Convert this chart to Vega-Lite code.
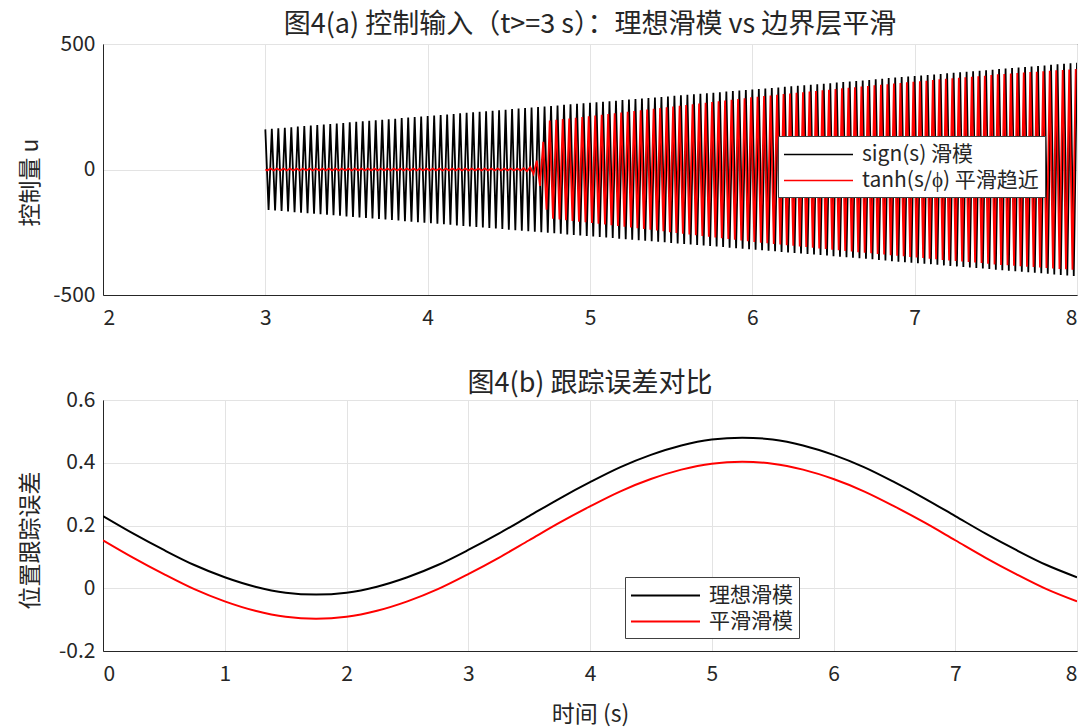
{
"$schema": "https://vega.github.io/schema/vega-lite/v6.json",
"background": "white",
"padding": {"left": 18, "top": 10, "right": 10, "bottom": 0},
"spacing": 40,
"resolve": {"scale": {"color": "independent"}, "legend": {"color": "independent"}},
"config": {
 "font": "Noto Sans CJK SC",
 "view": {"stroke": "#262626", "strokeWidth": 1},
 "axis": {"labelFont": "Noto Sans CJK SC", "labelFontSize": 21, "labelColor": "#262626", "titleFont": "Noto Sans CJK SC", "titleFontSize": 23, "titleFontWeight": "normal", "titleColor": "#262626", "domainColor": "#262626", "gridColor": "#e3e3e3", "ticks": false, "labelPadding": 8, "titlePadding": 6},
 "axisX": {"labelPadding": 12, "titlePadding": 19},
 "title": {"font": "Noto Sans CJK SC", "fontSize": 27, "fontWeight": "normal", "color": "#262626"}
},
"datasets": {
 "sig": [
{"t":3.00,"u":160},{"t":3.02,"u":-161},{"t":3.04,"u":162},{"t":3.06,"u":-163},{"t":3.08,"u":164},{"t":3.10,"u":-165},{"t":3.12,"u":166},{"t":3.14,"u":-167},{"t":3.16,"u":168},{"t":3.18,"u":-170},
{"t":3.20,"u":171},{"t":3.22,"u":-172},{"t":3.24,"u":173},{"t":3.26,"u":-174},{"t":3.28,"u":175},{"t":3.30,"u":-176},{"t":3.32,"u":177},{"t":3.34,"u":-178},{"t":3.36,"u":179},{"t":3.38,"u":-180},
{"t":3.40,"u":181},{"t":3.42,"u":-182},{"t":3.44,"u":183},{"t":3.46,"u":-184},{"t":3.48,"u":185},{"t":3.50,"u":-187},{"t":3.52,"u":188},{"t":3.54,"u":-189},{"t":3.56,"u":190},{"t":3.58,"u":-191},
{"t":3.60,"u":192},{"t":3.62,"u":-193},{"t":3.64,"u":194},{"t":3.66,"u":-195},{"t":3.68,"u":196},{"t":3.70,"u":-197},{"t":3.72,"u":198},{"t":3.74,"u":-199},{"t":3.76,"u":200},{"t":3.78,"u":-201},
{"t":3.80,"u":202},{"t":3.82,"u":-203},{"t":3.84,"u":205},{"t":3.86,"u":-206},{"t":3.88,"u":207},{"t":3.90,"u":-208},{"t":3.92,"u":209},{"t":3.94,"u":-210},{"t":3.96,"u":211},{"t":3.98,"u":-212},
{"t":4.00,"u":213},{"t":4.02,"u":-214},{"t":4.04,"u":215},{"t":4.06,"u":-216},{"t":4.08,"u":217},{"t":4.10,"u":-218},{"t":4.12,"u":219},{"t":4.14,"u":-220},{"t":4.16,"u":221},{"t":4.18,"u":-223},
{"t":4.20,"u":224},{"t":4.22,"u":-225},{"t":4.24,"u":226},{"t":4.26,"u":-227},{"t":4.28,"u":228},{"t":4.30,"u":-229},{"t":4.32,"u":230},{"t":4.34,"u":-231},{"t":4.36,"u":232},{"t":4.38,"u":-233},
{"t":4.40,"u":234},{"t":4.42,"u":-235},{"t":4.44,"u":236},{"t":4.46,"u":-237},{"t":4.48,"u":238},{"t":4.50,"u":-240},{"t":4.52,"u":241},{"t":4.54,"u":-242},{"t":4.56,"u":243},{"t":4.58,"u":-244},
{"t":4.60,"u":245},{"t":4.62,"u":-246},{"t":4.64,"u":247},{"t":4.66,"u":-248},{"t":4.68,"u":249},{"t":4.70,"u":-250},{"t":4.72,"u":251},{"t":4.74,"u":-252},{"t":4.76,"u":253},{"t":4.78,"u":-254},
{"t":4.80,"u":255},{"t":4.82,"u":-256},{"t":4.84,"u":258},{"t":4.86,"u":-259},{"t":4.88,"u":260},{"t":4.90,"u":-261},{"t":4.92,"u":262},{"t":4.94,"u":-263},{"t":4.96,"u":264},{"t":4.98,"u":-265},
{"t":5.00,"u":266},{"t":5.02,"u":-267},{"t":5.04,"u":268},{"t":5.06,"u":-269},{"t":5.08,"u":270},{"t":5.10,"u":-271},{"t":5.12,"u":272},{"t":5.14,"u":-273},{"t":5.16,"u":274},{"t":5.18,"u":-276},
{"t":5.20,"u":277},{"t":5.22,"u":-278},{"t":5.24,"u":279},{"t":5.26,"u":-280},{"t":5.28,"u":281},{"t":5.30,"u":-282},{"t":5.32,"u":283},{"t":5.34,"u":-284},{"t":5.36,"u":285},{"t":5.38,"u":-286},
{"t":5.40,"u":287},{"t":5.42,"u":-288},{"t":5.44,"u":289},{"t":5.46,"u":-290},{"t":5.48,"u":291},{"t":5.50,"u":-293},{"t":5.52,"u":294},{"t":5.54,"u":-295},{"t":5.56,"u":296},{"t":5.58,"u":-297},
{"t":5.60,"u":298},{"t":5.62,"u":-299},{"t":5.64,"u":300},{"t":5.66,"u":-301},{"t":5.68,"u":302},{"t":5.70,"u":-303},{"t":5.72,"u":304},{"t":5.74,"u":-305},{"t":5.76,"u":306},{"t":5.78,"u":-307},
{"t":5.80,"u":308},{"t":5.82,"u":-309},{"t":5.84,"u":311},{"t":5.86,"u":-312},{"t":5.88,"u":313},{"t":5.90,"u":-314},{"t":5.92,"u":315},{"t":5.94,"u":-316},{"t":5.96,"u":317},{"t":5.98,"u":-318},
{"t":6.00,"u":319},{"t":6.02,"u":-320},{"t":6.04,"u":321},{"t":6.06,"u":-322},{"t":6.08,"u":323},{"t":6.10,"u":-324},{"t":6.12,"u":325},{"t":6.14,"u":-326},{"t":6.16,"u":327},{"t":6.18,"u":-329},
{"t":6.20,"u":330},{"t":6.22,"u":-331},{"t":6.24,"u":332},{"t":6.26,"u":-333},{"t":6.28,"u":334},{"t":6.30,"u":-335},{"t":6.32,"u":336},{"t":6.34,"u":-337},{"t":6.36,"u":338},{"t":6.38,"u":-339},
{"t":6.40,"u":340},{"t":6.42,"u":-341},{"t":6.44,"u":342},{"t":6.46,"u":-343},{"t":6.48,"u":344},{"t":6.50,"u":-346},{"t":6.52,"u":347},{"t":6.54,"u":-348},{"t":6.56,"u":349},{"t":6.58,"u":-350},
{"t":6.60,"u":351},{"t":6.62,"u":-352},{"t":6.64,"u":353},{"t":6.66,"u":-354},{"t":6.68,"u":355},{"t":6.70,"u":-356},{"t":6.72,"u":357},{"t":6.74,"u":-358},{"t":6.76,"u":359},{"t":6.78,"u":-360},
{"t":6.80,"u":361},{"t":6.82,"u":-362},{"t":6.84,"u":364},{"t":6.86,"u":-365},{"t":6.88,"u":366},{"t":6.90,"u":-367},{"t":6.92,"u":368},{"t":6.94,"u":-369},{"t":6.96,"u":370},{"t":6.98,"u":-371},
{"t":7.00,"u":372},{"t":7.02,"u":-373},{"t":7.04,"u":374},{"t":7.06,"u":-375},{"t":7.08,"u":376},{"t":7.10,"u":-377},{"t":7.12,"u":378},{"t":7.14,"u":-379},{"t":7.16,"u":380},{"t":7.18,"u":-382},
{"t":7.20,"u":383},{"t":7.22,"u":-384},{"t":7.24,"u":385},{"t":7.26,"u":-386},{"t":7.28,"u":387},{"t":7.30,"u":-388},{"t":7.32,"u":389},{"t":7.34,"u":-390},{"t":7.36,"u":391},{"t":7.38,"u":-392},
{"t":7.40,"u":393},{"t":7.42,"u":-394},{"t":7.44,"u":395},{"t":7.46,"u":-396},{"t":7.48,"u":397},{"t":7.50,"u":-399},{"t":7.52,"u":400},{"t":7.54,"u":-401},{"t":7.56,"u":402},{"t":7.58,"u":-403},
{"t":7.60,"u":404},{"t":7.62,"u":-405},{"t":7.64,"u":406},{"t":7.66,"u":-407},{"t":7.68,"u":408},{"t":7.70,"u":-409},{"t":7.72,"u":410},{"t":7.74,"u":-411},{"t":7.76,"u":412},{"t":7.78,"u":-413},
{"t":7.80,"u":414},{"t":7.82,"u":-415},{"t":7.84,"u":417},{"t":7.86,"u":-418},{"t":7.88,"u":419},{"t":7.90,"u":-420},{"t":7.92,"u":421},{"t":7.94,"u":-422},{"t":7.96,"u":423},{"t":7.98,"u":-424},
{"t":8.00,"u":425}
 ],
 "tan": [
{"t":3.000,"u":0},
{"t":3.012,"u":-4},{"t":3.032,"u":4},{"t":3.052,"u":-4},{"t":3.072,"u":4},{"t":3.092,"u":-4},{"t":3.112,"u":4},{"t":3.132,"u":-4},{"t":3.152,"u":4},{"t":3.172,"u":-4},{"t":3.192,"u":4},
{"t":3.212,"u":-4},{"t":3.232,"u":4},{"t":3.252,"u":-4},{"t":3.272,"u":4},{"t":3.292,"u":-4},{"t":3.312,"u":4},{"t":3.332,"u":-4},{"t":3.352,"u":4},{"t":3.372,"u":-4},{"t":3.392,"u":4},
{"t":3.412,"u":-4},{"t":3.432,"u":4},{"t":3.452,"u":-4},{"t":3.472,"u":4},{"t":3.492,"u":-4},{"t":3.512,"u":4},{"t":3.532,"u":-4},{"t":3.552,"u":4},{"t":3.572,"u":-4},{"t":3.592,"u":4},
{"t":3.612,"u":-4},{"t":3.632,"u":4},{"t":3.652,"u":-4},{"t":3.672,"u":4},{"t":3.692,"u":-4},{"t":3.712,"u":4},{"t":3.732,"u":-4},{"t":3.752,"u":4},{"t":3.772,"u":-4},{"t":3.792,"u":4},
{"t":3.812,"u":-4},{"t":3.832,"u":4},{"t":3.852,"u":-4},{"t":3.872,"u":4},{"t":3.892,"u":-4},{"t":3.912,"u":4},{"t":3.932,"u":-4},{"t":3.952,"u":4},{"t":3.972,"u":-4},{"t":3.992,"u":4},
{"t":4.012,"u":-4},{"t":4.032,"u":4},{"t":4.052,"u":-4},{"t":4.072,"u":4},{"t":4.092,"u":-4},{"t":4.112,"u":4},{"t":4.132,"u":-4},{"t":4.152,"u":4},{"t":4.172,"u":-4},{"t":4.192,"u":4},
{"t":4.212,"u":-4},{"t":4.232,"u":4},{"t":4.252,"u":-4},{"t":4.272,"u":4},{"t":4.292,"u":-4},{"t":4.312,"u":4},{"t":4.332,"u":-4},{"t":4.352,"u":4},{"t":4.372,"u":-4},{"t":4.392,"u":4},
{"t":4.412,"u":-4},{"t":4.432,"u":4},{"t":4.452,"u":-4},{"t":4.472,"u":4},{"t":4.492,"u":-4},{"t":4.512,"u":4},{"t":4.532,"u":-4},{"t":4.552,"u":4},{"t":4.572,"u":-4},{"t":4.592,"u":5},
{"t":4.612,"u":-7},{"t":4.632,"u":10},{"t":4.652,"u":-18},{"t":4.672,"u":35},{"t":4.692,"u":-65},{"t":4.712,"u":110},{"t":4.732,"u":-160},{"t":4.752,"u":195},{"t":4.772,"u":-196},{"t":4.792,"u":198},
{"t":4.812,"u":-199},{"t":4.832,"u":201},{"t":4.852,"u":-202},{"t":4.872,"u":203},{"t":4.892,"u":-205},{"t":4.912,"u":206},{"t":4.932,"u":-208},{"t":4.952,"u":209},{"t":4.972,"u":-210},{"t":4.992,"u":212},
{"t":5.012,"u":-213},{"t":5.032,"u":215},{"t":5.052,"u":-216},{"t":5.072,"u":218},{"t":5.092,"u":-219},{"t":5.112,"u":221},{"t":5.132,"u":-222},{"t":5.152,"u":224},{"t":5.172,"u":-225},{"t":5.192,"u":227},
{"t":5.212,"u":-228},{"t":5.232,"u":230},{"t":5.252,"u":-231},{"t":5.272,"u":233},{"t":5.292,"u":-234},{"t":5.312,"u":236},{"t":5.332,"u":-237},{"t":5.352,"u":239},{"t":5.372,"u":-240},{"t":5.392,"u":242},
{"t":5.412,"u":-243},{"t":5.432,"u":245},{"t":5.452,"u":-246},{"t":5.472,"u":248},{"t":5.492,"u":-250},{"t":5.512,"u":251},{"t":5.532,"u":-253},{"t":5.552,"u":254},{"t":5.572,"u":-256},{"t":5.592,"u":257},
{"t":5.612,"u":-259},{"t":5.632,"u":260},{"t":5.652,"u":-262},{"t":5.672,"u":263},{"t":5.692,"u":-265},{"t":5.712,"u":266},{"t":5.732,"u":-268},{"t":5.752,"u":269},{"t":5.772,"u":-271},{"t":5.792,"u":272},
{"t":5.812,"u":-274},{"t":5.832,"u":275},{"t":5.852,"u":-277},{"t":5.872,"u":278},{"t":5.892,"u":-280},{"t":5.912,"u":281},{"t":5.932,"u":-283},{"t":5.952,"u":284},{"t":5.972,"u":-286},{"t":5.992,"u":288},
{"t":6.012,"u":-289},{"t":6.032,"u":290},{"t":6.052,"u":-292},{"t":6.072,"u":293},{"t":6.092,"u":-294},{"t":6.112,"u":295},{"t":6.132,"u":-297},{"t":6.152,"u":298},{"t":6.172,"u":-299},{"t":6.192,"u":301},
{"t":6.212,"u":-302},{"t":6.232,"u":303},{"t":6.252,"u":-304},{"t":6.272,"u":306},{"t":6.292,"u":-307},{"t":6.312,"u":308},{"t":6.332,"u":-309},{"t":6.352,"u":311},{"t":6.372,"u":-312},{"t":6.392,"u":313},
{"t":6.412,"u":-315},{"t":6.432,"u":316},{"t":6.452,"u":-317},{"t":6.472,"u":318},{"t":6.492,"u":-320},{"t":6.512,"u":321},{"t":6.532,"u":-322},{"t":6.552,"u":324},{"t":6.572,"u":-325},{"t":6.592,"u":326},
{"t":6.612,"u":-327},{"t":6.632,"u":328},{"t":6.652,"u":-330},{"t":6.672,"u":331},{"t":6.692,"u":-332},{"t":6.712,"u":333},{"t":6.732,"u":-334},{"t":6.752,"u":336},{"t":6.772,"u":-337},{"t":6.792,"u":338},
{"t":6.812,"u":-339},{"t":6.832,"u":340},{"t":6.852,"u":-342},{"t":6.872,"u":343},{"t":6.892,"u":-344},{"t":6.912,"u":345},{"t":6.932,"u":-346},{"t":6.952,"u":348},{"t":6.972,"u":-349},{"t":6.992,"u":350},
{"t":7.012,"u":-351},{"t":7.032,"u":352},{"t":7.052,"u":-353},{"t":7.072,"u":354},{"t":7.092,"u":-356},{"t":7.112,"u":357},{"t":7.132,"u":-358},{"t":7.152,"u":359},{"t":7.172,"u":-360},{"t":7.192,"u":361},
{"t":7.212,"u":-362},{"t":7.232,"u":363},{"t":7.252,"u":-364},{"t":7.272,"u":365},{"t":7.292,"u":-366},{"t":7.312,"u":367},{"t":7.332,"u":-368},{"t":7.352,"u":369},{"t":7.372,"u":-370},{"t":7.392,"u":371},
{"t":7.412,"u":-372},{"t":7.432,"u":373},{"t":7.452,"u":-375},{"t":7.472,"u":376},{"t":7.492,"u":-378},{"t":7.512,"u":379},{"t":7.532,"u":-380},{"t":7.552,"u":380},{"t":7.572,"u":-381},{"t":7.592,"u":382},
{"t":7.612,"u":-383},{"t":7.632,"u":384},{"t":7.652,"u":-385},{"t":7.672,"u":386},{"t":7.692,"u":-387},{"t":7.712,"u":388},{"t":7.732,"u":-388},{"t":7.752,"u":389},{"t":7.772,"u":-390},{"t":7.792,"u":391},
{"t":7.812,"u":-392},{"t":7.832,"u":393},{"t":7.852,"u":-394},{"t":7.872,"u":395},{"t":7.892,"u":-396},{"t":7.912,"u":396},{"t":7.932,"u":-397},{"t":7.952,"u":398},{"t":7.972,"u":-399},{"t":7.992,"u":400}
 ],
 "err": [
{"t":0,"a":0.230,"b":0.153},{"t":0.25,"a":0.174,"b":0.097},{"t":0.5,"a":0.122,"b":0.045},{"t":0.75,"a":0.074,"b":-0.003},{"t":1,"a":0.035,"b":-0.042},{"t":1.25,"a":0.005,"b":-0.072},{"t":1.5,"a":-0.014,"b":-0.091},{"t":1.75,"a":-0.020,"b":-0.097},
{"t":2,"a":-0.014,"b":-0.091},{"t":2.25,"a":0.005,"b":-0.072},{"t":2.5,"a":0.035,"b":-0.042},{"t":2.75,"a":0.074,"b":-0.003},{"t":3,"a":0.122,"b":0.045},{"t":3.25,"a":0.174,"b":0.097},{"t":3.5,"a":0.230,"b":0.153},{"t":3.75,"a":0.286,"b":0.209},
{"t":4,"a":0.338,"b":0.261},{"t":4.25,"a":0.386,"b":0.309},{"t":4.5,"a":0.425,"b":0.348},{"t":4.75,"a":0.455,"b":0.378},{"t":5,"a":0.474,"b":0.397},{"t":5.25,"a":0.480,"b":0.403},{"t":5.5,"a":0.474,"b":0.397},{"t":5.75,"a":0.455,"b":0.378},
{"t":6,"a":0.425,"b":0.348},{"t":6.25,"a":0.386,"b":0.309},{"t":6.5,"a":0.338,"b":0.261},{"t":6.75,"a":0.286,"b":0.209},{"t":7,"a":0.230,"b":0.153},{"t":7.25,"a":0.174,"b":0.097},{"t":7.5,"a":0.122,"b":0.045},{"t":7.75,"a":0.074,"b":-0.003},{"t":8,"a":0.035,"b":-0.042}
 ]
},
"vconcat": [
 {
  "width": 974, "height": 251,
  "title": {"text": "图4(a) 控制输入（t>=3 s）：理想滑模 vs 边界层平滑", "offset": -6},
  "layer": [
   {
    "data": {"name": "sig"},
    "mark": {"type": "line", "strokeWidth": 1.8, "clip": true},
    "encoding": {
     "x": {"field": "t", "type": "quantitative", "scale": {"domain": [2, 8], "nice": false}, "axis": {"values": [2,3,4,5,6,7,8], "format": "d", "title": null}},
     "y": {"field": "u", "type": "quantitative", "scale": {"domain": [-500, 500], "nice": false}, "axis": {"values": [-500,0,500], "title": "控制量 u", "titleX": -73, "titleY": 138, "titleBaseline": "middle", "labelExpr": "replace(datum.label, '−', '-')"}},
     "color": {"datum": "sign(s) 滑模", "type": "nominal",
      "scale": {"domain": ["sign(s) 滑模", "tanh(s/ϕ) 平滑趋近"], "range": ["#000000", "#ff0000"]},
      "legend": {"orient": "none", "legendX": 675, "legendY": 92, "title": null, "fillColor": "white", "strokeColor": "#404040", "padding": 6, "symbolType": "M -3 0 L 3 0", "symbolSize": 529, "symbolOffset": 22, "symbolStrokeWidth": 1.5, "labelFontSize": 21, "labelColor": "#262626", "rowPadding": 3, "labelLimit": 400, "labelOffset": 31}}
    }
   },
   {
    "data": {"name": "tan"},
    "mark": {"type": "line", "strokeWidth": 1.8, "clip": true},
    "encoding": {
     "x": {"field": "t", "type": "quantitative"},
     "y": {"field": "u", "type": "quantitative"},
     "color": {"datum": "tanh(s/ϕ) 平滑趋近", "type": "nominal"}
    }
   }
  ]
 },
 {
  "width": 974, "height": 251,
  "title": {"text": "图4(b) 跟踪误差对比", "offset": -9},
  "data": {"name": "err"},
  "transform": [{"fold": ["a", "b"], "as": ["k", "e"]}],
  "mark": {"type": "line", "strokeWidth": 2, "interpolate": "monotone", "clip": true},
  "encoding": {
   "x": {"field": "t", "type": "quantitative", "scale": {"domain": [0, 8], "nice": false}, "axis": {"values": [0,1,2,3,4,5,6,7,8], "format": "d", "title": "时间 (s)"}},
   "y": {"field": "e", "type": "quantitative", "scale": {"domain": [-0.2, 0.6], "nice": false}, "axis": {"values": [-0.2,0,0.2,0.4,0.6], "format": "~g", "title": "位置跟踪误差", "titleX": -73, "titleY": 140, "titleBaseline": "middle", "labelExpr": "replace(datum.label, '−', '-')"}},
   "color": {"field": "k", "type": "nominal",
    "scale": {"domain": ["a", "b"], "range": ["#000000", "#ff0000"]},
    "legend": {"orient": "none", "legendX": 522, "legendY": 177, "title": null, "fillColor": "white", "strokeColor": "#404040", "padding": 6, "symbolType": "M -3 0 L 3 0", "symbolSize": 529, "symbolOffset": 22, "symbolStrokeWidth": 2, "labelFontSize": 21, "labelColor": "#262626", "rowPadding": 3, "labelLimit": 400, "labelOffset": 31, "labelExpr": "datum.label == 'a' ? '理想滑模' : '平滑滑模'"}}
  }
 }
]
}
